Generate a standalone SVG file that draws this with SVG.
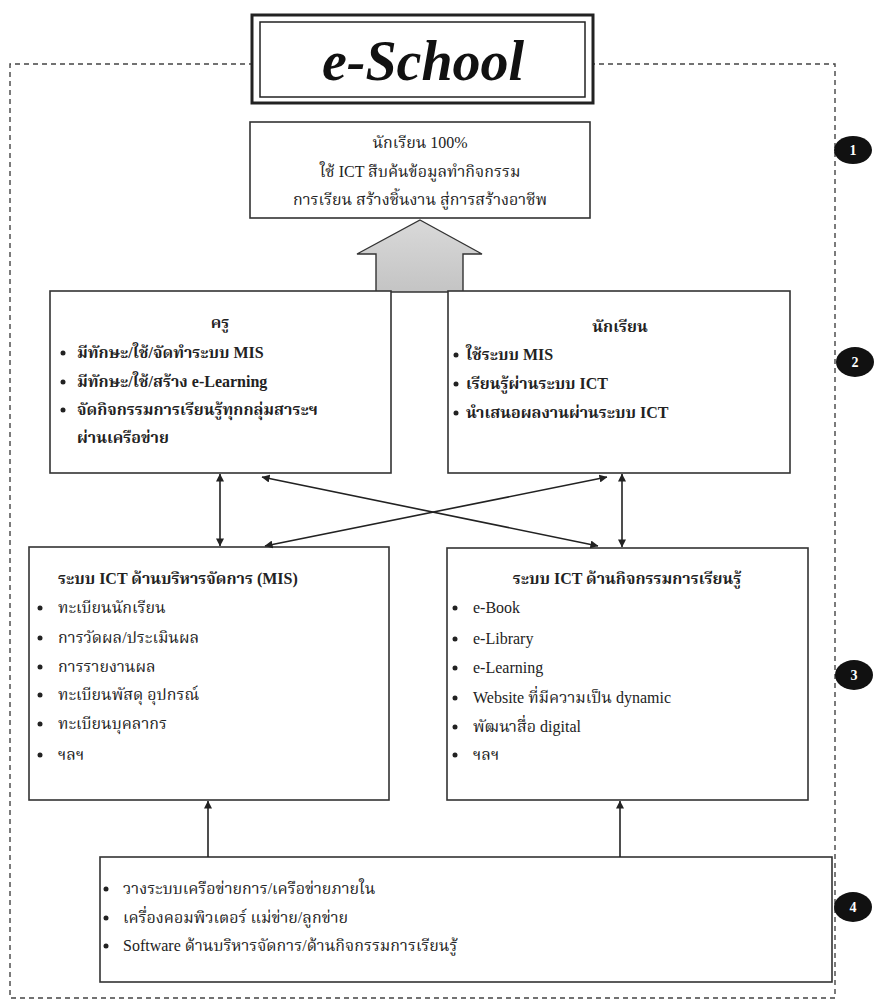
<svg xmlns="http://www.w3.org/2000/svg" width="885" height="1003" viewBox="0 0 885 1003">
<style>
.bg{fill:#ffffff}
.box{fill:#ffffff;stroke:#333333;stroke-width:1.6}
.dash{fill:none;stroke:#444444;stroke-width:1.4;stroke-dasharray:5,4}
.t{font-family:"Liberation Serif","Noto Serif Thai","Noto Sans Thai",serif;font-size:16px;fill:#222222}
.b{font-weight:bold}
.c{text-anchor:middle}
.title{font-family:"Liberation Serif","DejaVu Serif",serif;font-size:56px;font-weight:bold;font-style:italic;fill:#111111;text-anchor:middle}
.dot{fill:#222222}
.conn{stroke:#222222;stroke-width:1.6;fill:none}
.num{fill:#111111}
.numt{font-family:"Liberation Serif",serif;font-size:14px;font-weight:bold;fill:#ffffff;text-anchor:middle}
</style>
<defs>
<marker id="ah" viewBox="0 0 10 10" refX="9.5" refY="5" markerWidth="8" markerHeight="8" orient="auto-start-reverse" markerUnits="userSpaceOnUse">
<path d="M0,0 L10,5 L0,10 z" fill="#222222"/>
</marker>
<linearGradient id="gray" x1="0" y1="0" x2="0" y2="1">
<stop offset="0" stop-color="#d9d9d9"/>
<stop offset="1" stop-color="#c4c4c4"/>
</linearGradient>
</defs>
<rect class="bg" x="0" y="0" width="885" height="1003"/>

<g id="frame">
<path class="dash" d="M254,64 H10 V998 H835 V64 H593"/>
</g>

<g id="title">
<rect x="252" y="15" width="341" height="88" fill="#ffffff" stroke="#222222" stroke-width="3"/>
<rect x="260" y="22" width="325" height="75" fill="none" stroke="#222222" stroke-width="1.5"/>
<text class="title" x="423" y="80">e-School</text>
</g>

<g id="big-arrow">
<path d="M420,220 L482,254 L463,254 L463,292 L376,292 L376,254 L357,254 Z" fill="url(#gray)" stroke="#333333" stroke-width="1.4"/>
</g>

<g id="goal">
<rect class="box" x="250" y="122" width="340" height="96"/>
<text class="t c" x="420" y="148">นักเรียน 100%</text>
<text class="t c" x="420" y="177">ใช้ ICT สืบค้นข้อมูลทำกิจกรรม</text>
<text class="t c" x="420" y="205">การเรียน สร้างชิ้นงาน สู่การสร้างอาชีพ</text>
</g>

<g id="teacher">
<rect class="box" x="50" y="291" width="341" height="182"/>
<text class="t b c" x="220" y="328">ครู</text>
<circle class="dot" cx="63" cy="353" r="2.5"/>
<text class="t b" x="77" y="358">มีทักษะ/ใช้/จัดทำระบบ MIS</text>
<circle class="dot" cx="63" cy="382" r="2.5"/>
<text class="t b" x="77" y="387">มีทักษะ/ใช้/สร้าง e-Learning</text>
<circle class="dot" cx="63" cy="410" r="2.5"/>
<text class="t b" x="77" y="415">จัดกิจกรรมการเรียนรู้ทุกกลุ่มสาระฯ</text>
<text class="t b" x="77" y="443">ผ่านเครือข่าย</text>
</g>

<g id="student">
<rect class="box" x="448" y="291" width="342" height="182"/>
<text class="t b c" x="620" y="332">นักเรียน</text>
<circle class="dot" cx="456" cy="355" r="2.5"/>
<text class="t b" x="466" y="360">ใช้ระบบ MIS</text>
<circle class="dot" cx="456" cy="384" r="2.5"/>
<text class="t b" x="466" y="389">เรียนรู้ผ่านระบบ ICT</text>
<circle class="dot" cx="456" cy="413" r="2.5"/>
<text class="t b" x="466" y="418">นำเสนอผลงานผ่านระบบ ICT</text>
</g>

<g id="mis">
<rect class="box" x="29" y="547" width="360" height="253"/>
<text class="t b" x="58" y="584">ระบบ ICT ด้านบริหารจัดการ (MIS)</text>
<circle class="dot" cx="40" cy="608" r="2.5"/>
<text class="t" x="58" y="613">ทะเบียนนักเรียน</text>
<circle class="dot" cx="40" cy="638" r="2.5"/>
<text class="t" x="58" y="643">การวัดผล/ประเมินผล</text>
<circle class="dot" cx="40" cy="667" r="2.5"/>
<text class="t" x="58" y="672">การรายงานผล</text>
<circle class="dot" cx="40" cy="695" r="2.5"/>
<text class="t" x="58" y="700">ทะเบียนพัสดุ อุปกรณ์</text>
<circle class="dot" cx="40" cy="724" r="2.5"/>
<text class="t" x="58" y="729">ทะเบียนบุคลากร</text>
<circle class="dot" cx="40" cy="755" r="2.5"/>
<text class="t" x="58" y="760">ฯลฯ</text>
</g>

<g id="learning">
<rect class="box" x="447" y="548" width="361" height="252"/>
<text class="t b c" x="627" y="584">ระบบ ICT ด้านกิจกรรมการเรียนรู้</text>
<circle class="dot" cx="455" cy="608" r="2.5"/>
<text class="t" x="473" y="613">e-Book</text>
<circle class="dot" cx="455" cy="639" r="2.5"/>
<text class="t" x="473" y="644">e-Library</text>
<circle class="dot" cx="455" cy="668" r="2.5"/>
<text class="t" x="473" y="673">e-Learning</text>
<circle class="dot" cx="455" cy="698" r="2.5"/>
<text class="t" x="473" y="703">Website ที่มีความเป็น dynamic</text>
<circle class="dot" cx="455" cy="727" r="2.5"/>
<text class="t" x="473" y="732">พัฒนาสื่อ digital</text>
<circle class="dot" cx="455" cy="755" r="2.5"/>
<text class="t" x="473" y="760">ฯลฯ</text>
</g>

<g id="infrastructure">
<rect class="box" x="100" y="857" width="732" height="125"/>
<circle class="dot" cx="106" cy="889" r="2.5"/>
<text class="t" x="123" y="894">วางระบบเครือข่ายการ/เครือข่ายภายใน</text>
<circle class="dot" cx="106" cy="918" r="2.5"/>
<text class="t" x="123" y="923">เครื่องคอมพิวเตอร์ แม่ข่าย/ลูกข่าย</text>
<circle class="dot" cx="106" cy="946" r="2.5"/>
<text class="t" x="123" y="951">Software ด้านบริหารจัดการ/ด้านกิจกรรมการเรียนรู้</text>
</g>

<g id="connectors">
<line class="conn" x1="220" y1="474" x2="220" y2="546" marker-start="url(#ah)" marker-end="url(#ah)"/>
<line class="conn" x1="622" y1="474" x2="622" y2="547" marker-start="url(#ah)" marker-end="url(#ah)"/>
<line class="conn" x1="262" y1="477" x2="598" y2="546" marker-start="url(#ah)" marker-end="url(#ah)"/>
<line class="conn" x1="607" y1="477" x2="265" y2="546" marker-start="url(#ah)" marker-end="url(#ah)"/>
<line class="conn" x1="208" y1="857" x2="208" y2="801" marker-end="url(#ah)"/>
<line class="conn" x1="620" y1="857" x2="620" y2="801" marker-end="url(#ah)"/>
</g>

<g id="badges">
<ellipse class="num" cx="853" cy="150" rx="19" ry="14"/>
<text class="numt" x="853" y="155">1</text>
<ellipse class="num" cx="855" cy="362" rx="19" ry="15"/>
<text class="numt" x="855" y="367">2</text>
<ellipse class="num" cx="854" cy="675" rx="19" ry="15"/>
<text class="numt" x="854" y="680">3</text>
<ellipse class="num" cx="853" cy="907" rx="19" ry="15"/>
<text class="numt" x="853" y="912">4</text>
</g>
</svg>
